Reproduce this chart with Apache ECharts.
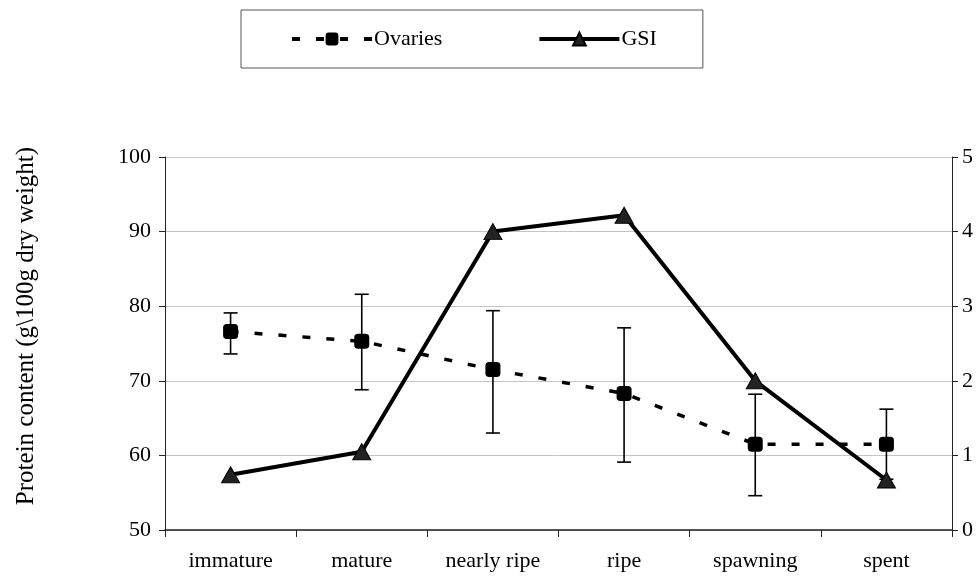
<!DOCTYPE html>
<html>
<head>
<meta charset="utf-8">
<script src="https://cdn.jsdelivr.net/npm/echarts@6/dist/echarts.min.js"></script>
<style>
  html, body { margin: 0; padding: 0; background: #fff; }
  #chart { width: 980px; height: 584px; }
</style>
</head>
<body>
<div id="chart"></div>
<script>
// stages of ovary development
const stages = ['immature', 'mature', 'nearly ripe', 'ripe', 'spawning', 'spent'];
// protein content of ovaries (left axis) with error bar ends
const ovaries = [76.6, 75.3, 71.5, 68.3, 61.5, 61.5];
const ovariesHigh = [79.1, 81.6, 79.4, 77.1, 68.2, 66.2];
const ovariesLow = [73.6, 68.8, 63.0, 59.1, 54.6, 56.8];
// gonadosomatic index (right axis)
const gsi = [0.74, 1.05, 4.0, 4.22, 2.0, 0.67];

const yTitle = 'Protein content (g\\100g dry weight)';
const font = 'Liberation Serif, Times New Roman, serif';

const chart = echarts.init(document.getElementById('chart'));

const errData = stages.map((s, i) => [i, ovariesLow[i], ovariesHigh[i]]);

chart.setOption({
  backgroundColor: '#fff',
  animation: false,
  textStyle: { fontFamily: font, color: '#000' },
  legend: {
    data: [
      { name: 'Ovaries', lineStyle: { width: 4, type: [8, 16] } },
      { name: 'GSI', lineStyle: { width: 4 } }
    ],
    left: 241,
    top: 10,
    padding: [18, 46, 18, 49],
    itemGap: 95,
    itemWidth: 80,
    itemHeight: 16,
    borderColor: '#555',
    borderWidth: 1,
    textStyle: { fontFamily: font, fontSize: 22, color: '#000', padding: [0, 0, 0, -3] }
  },
  graphic: [{
    type: 'text',
    x: 26,
    y: 326,
    rotation: Math.PI / 2,
    style: {
      text: yTitle,
      font: '25px ' + font,
      fill: '#000',
      align: 'center',
      verticalAlign: 'middle'
    }
  }],
  grid: { left: 165, right: 28, top: 157, bottom: 54 },
  xAxis: {
    type: 'category',
    data: stages,
    boundaryGap: true,
    axisLine: { lineStyle: { color: '#222', width: 1.5 } },
    axisTick: { show: true, length: 7, lineStyle: { color: '#222' } },
    axisLabel: { fontFamily: font, fontSize: 22, color: '#000', margin: 20 }
  },
  yAxis: [{
    type: 'value',
    min: 50,
    max: 100,
    interval: 10,
    axisLine: { show: true, lineStyle: { color: '#222', width: 1 } },
    axisTick: { show: true, length: 6, lineStyle: { color: '#222' } },
    axisLabel: { fontFamily: font, fontSize: 22, color: '#000', margin: 14 },
    splitLine: { show: true, lineStyle: { color: '#c4c4c4', width: 1 } }
  }, {
    type: 'value',
    min: 0,
    max: 5,
    interval: 1,
    position: 'right',
    axisLine: { show: true, lineStyle: { color: '#222', width: 1 } },
    axisTick: { show: true, length: 6, lineStyle: { color: '#222' } },
    axisLabel: { fontFamily: font, fontSize: 22, color: '#000', margin: 10 },
    splitLine: { show: false }
  }],
  series: [{
    name: 'errorbars',
    type: 'custom',
    yAxisIndex: 0,
    z: 1,
    data: errData,
    renderItem: function (params, api) {
      const x = api.value(0);
      const lo = api.coord([x, api.value(1)]);
      const hi = api.coord([x, api.value(2)]);
      const w = 7;
      const st = { stroke: '#000', lineWidth: 1.6 };
      return {
        type: 'group',
        children: [
          { type: 'line', shape: { x1: lo[0], y1: lo[1], x2: hi[0], y2: hi[1] }, style: st },
          { type: 'line', shape: { x1: lo[0] - w, y1: lo[1], x2: lo[0] + w, y2: lo[1] }, style: st },
          { type: 'line', shape: { x1: hi[0] - w, y1: hi[1], x2: hi[0] + w, y2: hi[1] }, style: st }
        ]
      };
    }
  }, {
    name: 'Ovaries',
    type: 'line',
    yAxisIndex: 0,
    z: 3,
    data: ovaries,
    symbol: 'roundRect',
    symbolSize: 15,
    lineStyle: { color: '#000', width: 3.5, type: [8, 16] },
    itemStyle: { color: '#000' }
  }, {
    name: 'GSI',
    type: 'line',
    yAxisIndex: 1,
    z: 4,
    data: gsi,
    symbol: 'triangle',
    symbolSize: [18, 16],
    lineStyle: { color: '#000', width: 4 },
    itemStyle: { color: '#222', borderColor: '#000', borderWidth: 1 }
  }]
});
</script>
</body>
</html>
